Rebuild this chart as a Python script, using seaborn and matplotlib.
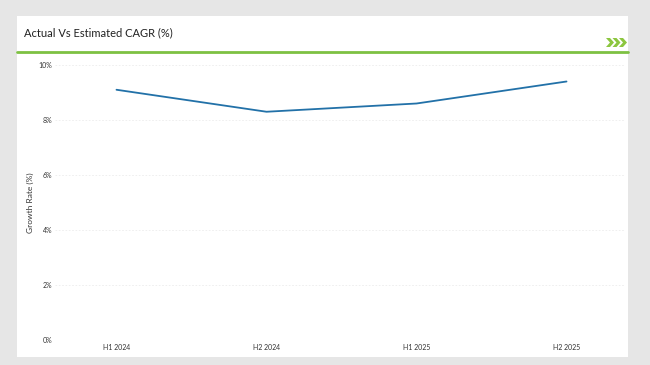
import matplotlib
matplotlib.use('Agg')
import matplotlib.pyplot as plt
import seaborn as sns
import pandas as pd
from matplotlib.patches import Rectangle, Polygon
from matplotlib.lines import Line2D
from matplotlib.ticker import FuncFormatter

# Dados
periodos = ["H1 2024", "H2 2024", "H1 2025", "H2 2025"]
crescimento = [9.1, 8.3, 8.6, 9.4]

df = pd.DataFrame({"PERIODO": periodos, "CRESCIMENTO": crescimento})
df["POS"] = range(len(df))

sns.set_theme(style="white")
plt.rcParams['font.family'] = ['Lato', 'DejaVu Sans']

W, H = 650, 365
fig = plt.figure(figsize=(W / 100, H / 100), dpi=100)
fig.patch.set_facecolor("#e6e6e6")

def px(x, y):
    return (x / W, 1 - y / H)

# Painel branco
x0, y0 = px(17, 357)
fig.patches.append(Rectangle((x0, y0), (628 - 17) / W, (357 - 16) / H,
                             transform=fig.transFigure, facecolor="white",
                             edgecolor="none", zorder=-10))

# Título e linha verde
fig.text(24 / W, 1 - 33 / H, "Actual Vs Estimated CAGR (%)", fontsize=8,
         color="#222222", va="center", ha="left")
fig.lines.append(Line2D([17 / W, 628 / W], [1 - 52 / H] * 2, transform=fig.transFigure,
                        color="#7dc142", linewidth=2))

# Setas (chevrons)
for i in range(3):
    cx = 606 + i * 6.5
    pts = [(cx, 38), (cx + 4, 38), (cx + 8, 42.5), (cx + 4, 47), (cx, 47), (cx + 4, 42.5)]
    fig.patches.append(Polygon([px(a, b) for a, b in pts], closed=True,
                               transform=fig.transFigure, facecolor="#8cc63f",
                               edgecolor="none"))

ax = fig.add_axes([55 / W, 25 / H, (625 - 55) / W, (340 - 65) / H])
ax.set_facecolor("none")
ax.set_zorder(5)

sns.lineplot(data=df, x="POS", y="CRESCIMENTO", ax=ax, color="#2271a8", linewidth=1.3)

ax.set_ylim(0, 10)
ax.set_xlim(-0.41, 3.39)
ax.set_yticks([0, 2, 4, 6, 8, 10])
ax.yaxis.set_major_formatter(FuncFormatter(lambda v, p: f"{v:.0f}%"))
ax.set_xticks(df["POS"])
ax.set_xticklabels(periodos)
ax.tick_params(axis="both", labelsize=5, colors="#333333", length=0, pad=3)
ax.tick_params(axis="y", pad=2)
ax.grid(axis="y", color="#ececec", linestyle=(0, (2, 2)), linewidth=0.6)
for s in ax.spines.values():
    s.set_visible(False)

ax.set_xlabel("")
ax.set_ylabel("Growth Rate (%)", fontsize=6, color="#333333", labelpad=3)

plt.savefig("out.png", dpi=100, facecolor=fig.get_facecolor())
